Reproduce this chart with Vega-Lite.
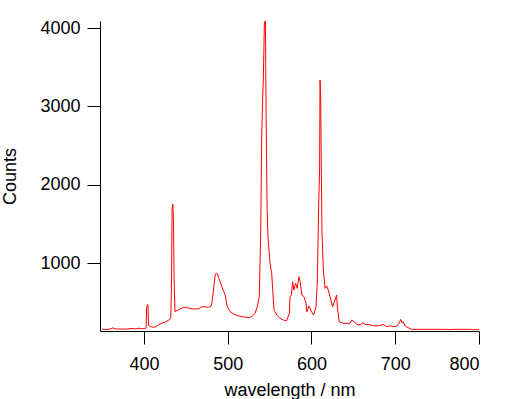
{
  "$schema": "https://vega.github.io/schema/vega-lite/v6.json",
  "autosize": "none",
  "width": 379,
  "height": 310,
  "padding": {"left": 100, "top": 21, "right": 42, "bottom": 68},
  "background": "white",
  "config": {
    "view": {"stroke": null},
    "font": "Liberation Sans",
    "axis": {
      "grid": false,
      "domainColor": "black",
      "domainWidth": 1,
      "tickColor": "black",
      "tickWidth": 1,
      "tickSize": 13,
      "labelFont": "Liberation Sans",
      "labelFontSize": 18,
      "labelColor": "black",
      "labelPadding": 7,
      "format": "d",
      "titleFont": "Liberation Sans",
      "titleFontSize": 18,
      "titleFontWeight": "normal",
      "titleColor": "black"
    }
  },
  "data": {
    "values": [
      {"wl": 350, "c": 155}, {"wl": 355, "c": 150}, {"wl": 360, "c": 158}, {"wl": 363, "c": 172},
      {"wl": 366, "c": 158}, {"wl": 372, "c": 157}, {"wl": 380, "c": 157}, {"wl": 386, "c": 165},
      {"wl": 390, "c": 158}, {"wl": 394, "c": 168}, {"wl": 398, "c": 160}, {"wl": 401, "c": 165},
      {"wl": 402.5, "c": 168}, {"wl": 403.2, "c": 430}, {"wl": 404, "c": 464}, {"wl": 404.7, "c": 470},
      {"wl": 405.5, "c": 200}, {"wl": 408, "c": 190}, {"wl": 410, "c": 180}, {"wl": 414, "c": 185},
      {"wl": 418, "c": 215}, {"wl": 422, "c": 235}, {"wl": 426, "c": 250}, {"wl": 430, "c": 275},
      {"wl": 432, "c": 300}, {"wl": 432.8, "c": 680}, {"wl": 433.6, "c": 1700}, {"wl": 434.5, "c": 1753},
      {"wl": 435.3, "c": 1500}, {"wl": 436, "c": 783}, {"wl": 437, "c": 380}, {"wl": 440, "c": 395},
      {"wl": 443, "c": 412}, {"wl": 447, "c": 434}, {"wl": 451, "c": 434}, {"wl": 455, "c": 420},
      {"wl": 460, "c": 412}, {"wl": 465, "c": 415}, {"wl": 469, "c": 440}, {"wl": 473, "c": 442},
      {"wl": 477, "c": 435}, {"wl": 480, "c": 450}, {"wl": 481, "c": 485}, {"wl": 483, "c": 655},
      {"wl": 485, "c": 847}, {"wl": 486.5, "c": 870}, {"wl": 488, "c": 860}, {"wl": 489, "c": 817},
      {"wl": 491, "c": 760}, {"wl": 493, "c": 697}, {"wl": 495, "c": 640}, {"wl": 497, "c": 591},
      {"wl": 499, "c": 464}, {"wl": 501, "c": 410}, {"wl": 503, "c": 378}, {"wl": 507, "c": 349},
      {"wl": 511, "c": 330}, {"wl": 514, "c": 323}, {"wl": 518, "c": 314}, {"wl": 522.7, "c": 306},
      {"wl": 526, "c": 305}, {"wl": 528.6, "c": 314}, {"wl": 532.6, "c": 358}, {"wl": 535.3, "c": 442},
      {"wl": 537.7, "c": 570}, {"wl": 539.4, "c": 1421}, {"wl": 540.5, "c": 2571}, {"wl": 541.7, "c": 3103},
      {"wl": 542.5, "c": 3337}, {"wl": 543.3, "c": 3800}, {"wl": 543.7, "c": 4040}, {"wl": 544.5, "c": 4090},
      {"wl": 545, "c": 4095}, {"wl": 545.8, "c": 2933}, {"wl": 547, "c": 1699}, {"wl": 548.1, "c": 1315},
      {"wl": 550.5, "c": 996}, {"wl": 552.5, "c": 868}, {"wl": 553.7, "c": 655}, {"wl": 555.3, "c": 400},
      {"wl": 558.5, "c": 336}, {"wl": 562, "c": 300}, {"wl": 566.4, "c": 272}, {"wl": 570.3, "c": 263},
      {"wl": 573.6, "c": 358}, {"wl": 574.4, "c": 570}, {"wl": 576, "c": 591}, {"wl": 577.5, "c": 761},
      {"wl": 579, "c": 655}, {"wl": 581, "c": 740}, {"wl": 583, "c": 677}, {"wl": 585, "c": 825},
      {"wl": 586.5, "c": 761}, {"wl": 588.5, "c": 591}, {"wl": 591, "c": 570}, {"wl": 593.5, "c": 485},
      {"wl": 594.5, "c": 378}, {"wl": 597, "c": 451}, {"wl": 600, "c": 378}, {"wl": 602.5, "c": 336},
      {"wl": 605.5, "c": 442}, {"wl": 607, "c": 783}, {"wl": 608.5, "c": 1700}, {"wl": 609.7, "c": 2213},
      {"wl": 610.2, "c": 3337}, {"wl": 611, "c": 3133}, {"wl": 611.6, "c": 2357}, {"wl": 612.5, "c": 1400},
      {"wl": 614.2, "c": 911}, {"wl": 616.2, "c": 677}, {"wl": 618.2, "c": 706}, {"wl": 620, "c": 655},
      {"wl": 622.1, "c": 570}, {"wl": 625.3, "c": 442}, {"wl": 628, "c": 527}, {"wl": 630, "c": 591},
      {"wl": 631, "c": 421}, {"wl": 633.2, "c": 250}, {"wl": 638, "c": 230}, {"wl": 646, "c": 230},
      {"wl": 648, "c": 272}, {"wl": 651, "c": 250}, {"wl": 654, "c": 216}, {"wl": 658, "c": 208},
      {"wl": 661, "c": 238}, {"wl": 664, "c": 216}, {"wl": 668, "c": 216}, {"wl": 674, "c": 199},
      {"wl": 680, "c": 199}, {"wl": 686, "c": 216}, {"wl": 690, "c": 187}, {"wl": 694, "c": 199},
      {"wl": 698, "c": 187}, {"wl": 702, "c": 195}, {"wl": 705, "c": 238}, {"wl": 706.4, "c": 281},
      {"wl": 708, "c": 240}, {"wl": 709.5, "c": 250}, {"wl": 712, "c": 195}, {"wl": 715.5, "c": 174},
      {"wl": 719.5, "c": 153}, {"wl": 760, "c": 153}, {"wl": 765, "c": 150}, {"wl": 770, "c": 153},
      {"wl": 790, "c": 153}, {"wl": 792, "c": 148}, {"wl": 795, "c": 153}, {"wl": 797, "c": 148},
      {"wl": 800, "c": 152}
    ]
  },
  "mark": {"type": "line", "color": "#ff0000", "strokeWidth": 1, "clip": true},
  "encoding": {
    "x": {
      "field": "wl",
      "type": "quantitative",
      "scale": {"domain": [347.5, 800], "nice": false, "zero": false},
      "axis": {"values": [400, 500, 600, 700, 800], "title": "wavelength / nm", "labelPadding": 11, "titlePadding": 8}
    },
    "y": {
      "field": "c",
      "type": "quantitative",
      "scale": {"domain": [132, 4090], "nice": false, "zero": false},
      "axis": {"values": [1000, 2000, 3000, 4000], "title": "Counts", "titlePadding": 20}
    }
  }
}
